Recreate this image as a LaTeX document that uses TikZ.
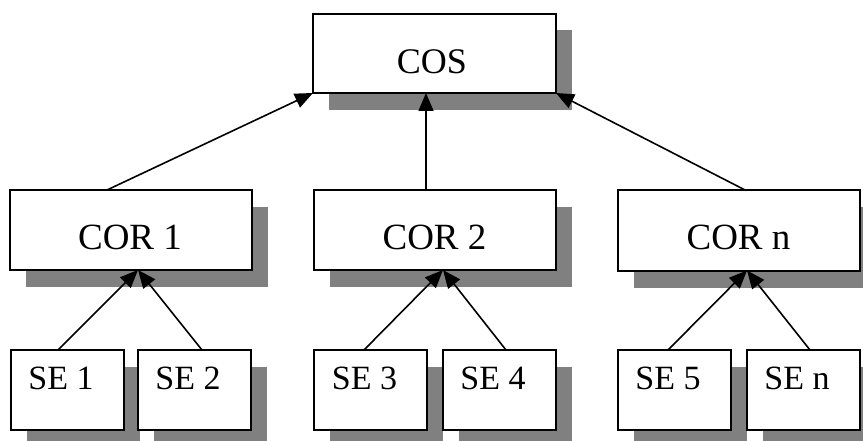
\documentclass[tikz,border=0pt]{standalone}
\usepackage{fontspec}
\setmainfont{Liberation Serif}
\usetikzlibrary{arrows.meta,calc}

\tikzset{
  box/.style={draw=black, line width=2pt, fill=white, inner sep=0pt, outer sep=0pt},
  bigbox/.style={box, minimum width=242pt, minimum height=80pt},
  smallbox/.style={box, minimum width=113pt, minimum height=80pt},
  shade/.style={fill=black!50, draw=none},
  toplbl/.style={inner sep=0pt, font=\fontsize{36pt}{42pt}\selectfont},
  lbl/.style={inner sep=0pt, font=\fontsize{37pt}{43pt}\selectfont},
  slbl/.style={inner sep=0pt, font=\fontsize{34pt}{40pt}\selectfont},
  arr/.style={line width=1.6pt, -{Triangle[length=18pt,width=15pt]}}
}

\begin{document}
\begin{tikzpicture}[x=1pt, y=-1pt]
  \clip (0,0) rectangle (863,441);
  \useasboundingbox (0,0) rectangle (863,441);

  % drop shadows behind the boxes
  \foreach \cx/\cy/\w in {434.5/53.5/243, 131/230/242, 435/230/242, 739/230.5/242}
    \fill[shade] (\cx-\w/2+16, \cy-40+17) rectangle (\cx+\w/2+16, \cy+40+17);
  \foreach \cx in {67, 194.5, 370.5, 499, 674.5, 803}
    \fill[shade] (\cx-56.5+16, 350+17) rectangle (\cx+56.5+16, 430+17);

  % top level
  \node[bigbox, minimum width=243pt, minimum height=79pt] (cos) at (434.5,53.5) {};
  \node[toplbl] at (432,62) {COS};

  % middle level
  \node[bigbox] (cor1) at (131,230) {};
  \node[bigbox] (cor2) at (435,230) {};
  \node[bigbox] (corn) at (739,230.5) {};
  \node[lbl] at (130,237) {COR 1};
  \node[lbl] at (434.5,237) {COR 2};
  \node[lbl] at (738.5,237) {COR n};

  % bottom level
  \node[smallbox] (se1) at (67,390) {};
  \node[smallbox] (se2) at (194.5,390) {};
  \node[smallbox] (se3) at (370.5,390) {};
  \node[smallbox] (se4) at (499,390) {};
  \node[smallbox] (se5) at (674.5,390) {};
  \node[smallbox] (sen) at (803,390) {};
  \node[slbl] at (61,378) {SE 1};
  \node[slbl] at (188,378) {SE 2};
  \node[slbl] at (364.5,378) {SE 3};
  \node[slbl] at (493,378) {SE 4};
  \node[slbl] at (668,378) {SE 5};
  \node[slbl] at (797,378) {SE n};

  % connectors to the top box
  \draw[arr] ([xshift=-24pt]cor1.north) -- (cos.south west);
  \draw[arr] ([xshift=-9pt]cor2.north) -- ([xshift=-8.5pt]cos.south);
  \draw[arr] ([xshift=7pt]corn.north) -- (cos.south east);

  % connectors to the middle boxes
  \draw[arr] ([xshift=-9pt]se1.north) -- ([xshift=7pt]cor1.south);
  \draw[arr] ([xshift=7.5pt]se2.north) -- ([xshift=7pt]cor1.south);
  \draw[arr] ([xshift=-6.5pt]se3.north) -- ([xshift=8pt]cor2.south);
  \draw[arr] ([xshift=7pt]se4.north) -- ([xshift=8pt]cor2.south);
  \draw[arr] ([xshift=-6.5pt]se5.north) -- ([xshift=8pt]corn.south);
  \draw[arr] ([xshift=7pt]sen.north) -- ([xshift=8pt]corn.south);
\end{tikzpicture}
\end{document}
